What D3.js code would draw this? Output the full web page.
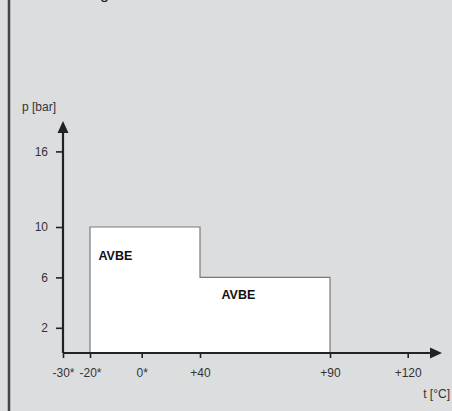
<!DOCTYPE html>
<html>
<head>
<meta charset="utf-8">
<script src="https://cdn.jsdelivr.net/npm/d3@7"></script>
<style>
  html, body { margin: 0; padding: 0; background: #dcdddf; }
  svg { display: block; font-family: "Liberation Sans", Arial, sans-serif; }
</style>
</head>
<body>
<svg id="chart" width="452" height="411"></svg>
<script>
// ---- data ----
const xTickValues = [-30, -20, 0, 40, 90, 120];
const xTickLabels = ["-30*", "-20*", "0*", "+40", "+90", "+120"];
const yTickValues = [2, 6, 10, 16];
const yTickLabels = ["2", "6", "10", "16"];
// pressure envelope (step): temperature breakpoints and pressure per segment
const segStart = [-20, 40];
const segEnd = [40, 90];
const segPressure = [10, 6];
const segLabels = ["AVBE", "AVBE"];
const xTitle = "t [°C]";
const yTitle = "p [bar]";

// ---- layout ----
const W = 452, H = 411;
const axisX0 = 63, axisY0 = 353;
// non-uniform temperature axis: pixel stops for each tick value
const xStops = [63, 90, 141.7, 200, 330, 407.7];
const svg = d3.select("#chart");
const FONT = "Liberation Sans, Arial, sans-serif";

const x = d3.scaleLinear().domain(xTickValues).range(xStops);
const y = d3.scaleLinear().domain([0, 16]).range([axisY0, 151.4]);

// left frame line
svg.append("line").attr("x1", 9).attr("x2", 9).attr("y1", 0).attr("y2", H)
  .attr("stroke", "#444").attr("stroke-width", 2.5);

// cut-off title at the top
svg.append("text").attr("x", 109).attr("y", -1).attr("text-anchor", "end")
  .attr("font-size", 16).attr("fill", "#222").text("Anwendung");

// step area
const pts = [];
pts.push([x(segStart[0]), y(0)]);
segStart.forEach((s, i) => {
  pts.push([x(s), y(segPressure[i])]);
  pts.push([x(segEnd[i]), y(segPressure[i])]);
});
pts.push([x(segEnd[segEnd.length - 1]), y(0)]);
svg.append("path")
  .attr("d", d3.line()(pts))
  .attr("fill", "#ffffff").attr("stroke", "#7a7a7a").attr("stroke-width", 1.2);

// segment labels
svg.append("text").attr("x", 98.5).attr("y", y(segPressure[0]) + 32.5)
  .attr("font-size", 12.5).attr("font-weight", "bold").attr("fill", "#111").text(segLabels[0]);
svg.append("text").attr("x", 221.5).attr("y", y(segPressure[1]) + 21.5)
  .attr("font-size", 12.5).attr("font-weight", "bold").attr("fill", "#111").text(segLabels[1]);

// axes
const xAxis = d3.axisBottom(x).tickValues(xTickValues)
  .tickFormat((d, i) => xTickLabels[i]).tickSize(5).tickPadding(10);
const gx = svg.append("g").attr("transform", `translate(0,${axisY0})`).call(xAxis);
gx.select(".domain").remove();
gx.selectAll(".tick line").attr("stroke", "#222").attr("stroke-width", 1.6);
gx.selectAll(".tick text").attr("font-size", 12).attr("fill", "#333").attr("font-family", FONT);

const yAxis = d3.axisLeft(y).tickValues(yTickValues)
  .tickFormat((d, i) => yTickLabels[i]).tickSize(7).tickPadding(8);
const gy = svg.append("g").attr("transform", `translate(${axisX0},0)`).call(yAxis);
gy.select(".domain").remove();
gy.selectAll(".tick line").attr("stroke", "#222").attr("stroke-width", 1.6);
gy.selectAll(".tick text").attr("font-size", 12).attr("fill", "#333").attr("font-family", FONT);

// axis lines with arrows
svg.append("line").attr("x1", axisX0).attr("x2", 433).attr("y1", axisY0).attr("y2", axisY0)
  .attr("stroke", "#222").attr("stroke-width", 2.2);
svg.append("path").attr("d", `M442,${axisY0} L430,${axisY0 - 5.5} L430,${axisY0 + 5.5} Z`).attr("fill", "#222");
svg.append("line").attr("x1", axisX0).attr("x2", axisX0).attr("y1", axisY0).attr("y2", 130)
  .attr("stroke", "#222").attr("stroke-width", 2.2);
svg.append("path").attr("d", `M${axisX0},121 L${axisX0 - 5.5},133 L${axisX0 + 5.5},133 Z`).attr("fill", "#222");

// axis titles
svg.append("text").attr("x", 450).attr("y", 398).attr("text-anchor", "end")
  .attr("font-size", 12).attr("fill", "#333").text(xTitle);
svg.append("text").attr("x", 22).attr("y", 111)
  .attr("font-size", 12).attr("fill", "#333").text(yTitle);
</script>
</body>
</html>
